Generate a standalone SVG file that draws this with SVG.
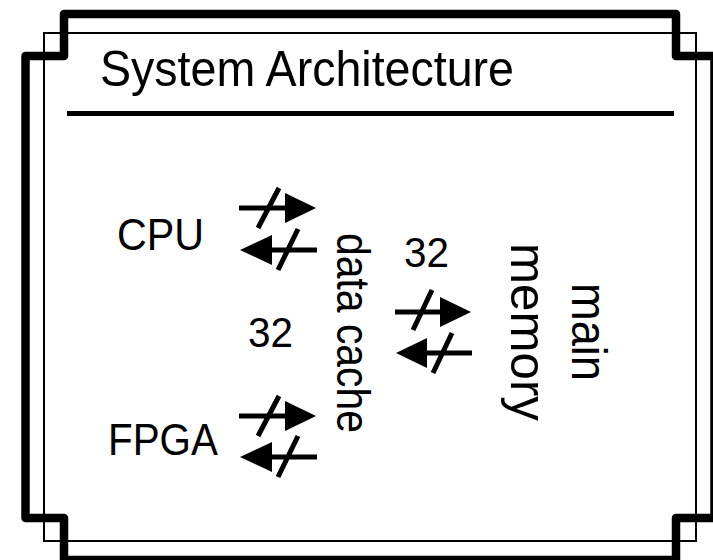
<svg xmlns="http://www.w3.org/2000/svg" width="713" height="560" viewBox="0 0 713 560">
<style>
.frame{fill:none;stroke:#000;stroke-width:8.5;stroke-linejoin:round}
.thin{fill:none;stroke:#000;stroke-width:2}
.sep{stroke:#000;stroke-width:5}
.t{font-family:"Liberation Sans",Arial,sans-serif;fill:#000}
.ln{fill:none;stroke:#000;stroke-width:5}
.hd{fill:#000;stroke:none}
</style>
<rect width="713" height="560" fill="#fff"/>
<g id="frame">
<rect class="thin" x="44" y="33" width="652" height="508"/>
<path class="frame" d="M64 14H676V56H714.5V518H676V560H64V518H25.5V56H64Z"/>
</g>
<g id="title">
<text class="t" x="100" y="86" font-size="50" textLength="414" lengthAdjust="spacingAndGlyphs">System Architecture</text>
<line class="sep" x1="67" y1="113.5" x2="674" y2="113.5"/>
</g>
<g id="cpu"><text class="t" x="117" y="250" font-size="45" textLength="87" lengthAdjust="spacingAndGlyphs">CPU</text></g>
<g id="fpga"><text class="t" x="108" y="455" font-size="45" textLength="110" lengthAdjust="spacingAndGlyphs">FPGA</text></g>
<g id="data-cache"><text class="t" transform="translate(337,333) rotate(90)" text-anchor="middle" font-size="46" textLength="200" lengthAdjust="spacingAndGlyphs">data cache</text></g>
<g id="main-memory">
<text class="t" transform="translate(572,332) rotate(90)" text-anchor="middle" font-size="50" textLength="98" lengthAdjust="spacingAndGlyphs">main</text>
<text class="t" transform="translate(511,332) rotate(90)" text-anchor="middle" font-size="50" textLength="178" lengthAdjust="spacingAndGlyphs">memory</text>
</g>
<g id="widths">
<text class="t" x="404" y="267" font-size="43" textLength="45" lengthAdjust="spacingAndGlyphs">32</text>
<text class="t" x="248" y="347" font-size="43" textLength="45" lengthAdjust="spacingAndGlyphs">32</text>
</g>
<g id="connectors">
<path class="ln" d="M239 208H286M258 228L279 188"/>
<path class="hd" d="M285 193L316 208L285 223Z"/>
<path class="ln" d="M272 250H317M278 270L298 229"/>
<path class="hd" d="M240 250L272 235L272 265Z"/>
<path class="ln" d="M239 416H286M258 436L279 396"/>
<path class="hd" d="M285 401L316 416L285 431Z"/>
<path class="ln" d="M272 457H317M278 477L298 436"/>
<path class="hd" d="M240 457L272 442L272 472Z"/>
<path class="ln" d="M395 312H441M413 330L432 290"/>
<path class="hd" d="M440 297L471 312L440 327Z"/>
<path class="ln" d="M427 353H472M433 373L452 333"/>
<path class="hd" d="M396 353L427 338L427 368Z"/>
</g>
</svg>
